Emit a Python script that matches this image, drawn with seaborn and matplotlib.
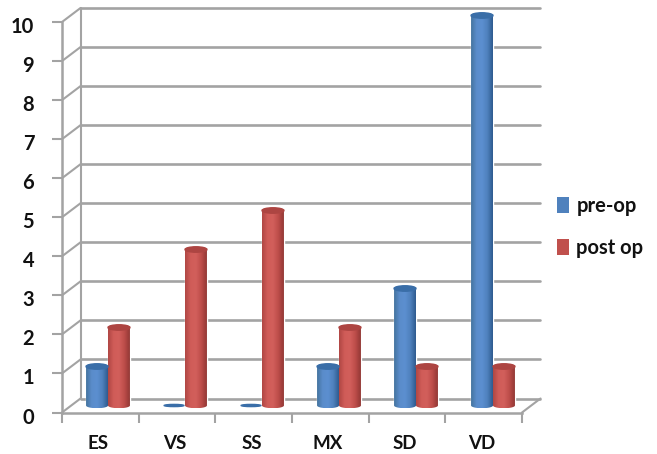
import numpy as np
import pandas as pd
import matplotlib
matplotlib.use("Agg")
import matplotlib.pyplot as plt
from matplotlib.colors import LinearSegmentedColormap
from matplotlib.patches import Ellipse, PathPatch, Patch
from matplotlib.path import Path
from matplotlib.transforms import ScaledTranslation
import seaborn as sns

categories = ["ES", "VS", "SS", "MX", "SD", "VD"]
pre_op = [1, 0, 0, 1, 3, 10]
post_op = [2, 4, 5, 2, 1, 1]
series_names = ["pre-op", "post op"]
y_ticks = list(range(0, 11))

sns.set_theme(style="white")
plt.rcParams["font.family"] = ["Lato", "DejaVu Sans"]

W, H = 657, 454
fig = plt.figure(figsize=(W / 100, H / 100), dpi=100, facecolor="white")

def rect(l, top, r, bottom):
    return [l / W, 1 - bottom / H, (r - l) / W, (bottom - top) / H]

GRID = "#a3a3a3"
# Front plane of the 3D frame
wall = fig.add_axes(rect(62, 22, 522, 412.5))
wall.set_xlim(0, 6)
wall.set_ylim(0, 10)
dx = 18.5 / (460 / 6)
dy = 14 / 39.05
for v in y_ticks:
    wall.plot([0, dx], [v, v + dy], color=GRID, lw=1.5, clip_on=False, zorder=1)
    wall.plot([dx, 6 + dx], [v + dy, v + dy], color=GRID, lw=1.9, clip_on=False, zorder=1)
wall.plot([dx, dx], [dy, 10 + dy], color=GRID, lw=1.5, clip_on=False, zorder=1)
wall.plot([6, 6 + dx], [0, dy], color=GRID, lw=1.5, clip_on=False, zorder=1)
wall.set_yticks(y_ticks)
wall.set_xticks(range(7))
wall.set_xticklabels([])
wall.set_xticks(np.arange(6) + 0.47, labels=categories, minor=True)
wall.tick_params(axis="x", which="major", length=7, width=1.5, color=GRID, bottom=True)
wall.tick_params(axis="x", which="minor", length=0, pad=16, labelsize=13.5, labelcolor="#111111")
wall.tick_params(axis="y", length=7, width=1.5, color=GRID, left=True, pad=13, labelsize=14.5, labelcolor="#111111")
for lab in wall.get_xticklabels(minor=True) + wall.get_yticklabels():
    lab.set_fontweight("bold")
for lab in wall.get_yticklabels():
    lab.set_transform(lab.get_transform() + ScaledTranslation(0, -3 / 100, fig.dpi_scale_trans))
for s in ("top", "right"):
    wall.spines[s].set_visible(False)
for s in ("left", "bottom"):
    wall.spines[s].set_color(GRID)
    wall.spines[s].set_linewidth(1.8)

# Bars
bars = fig.add_axes(rect(69.5, 15.5, 531.5, 405.5))
bars.patch.set_alpha(0)
df = pd.DataFrame({
    "category": categories * 2,
    "value": pre_op + post_op,
    "series": [series_names[0]] * 6 + [series_names[1]] * 6,
})
colors = ["#4f81bd", "#c0504d"]
sns.barplot(data=df, x="category", y="value", hue="series", order=categories,
            hue_order=series_names, palette=colors, width=0.57, gap=0,
            saturation=1, legend=False, ax=bars)
bars.set_xlim(-0.5, 5.5)
bars.set_ylim(0, 10)
bars.axis("off")

ramps = [
    ["#44749f", "#5a8cca", "#5c8fd0", "#4f81bd", "#2f5b90"],
    ["#b04744", "#d05c58", "#d25f5b", "#bd4d4a", "#933835"],
]
caps = ["#3a6ea8", "#ad4542"]
cap_h = 0.07
grad = np.linspace(0, 1, 64).reshape(1, -1)
for cont, ramp, cap in zip(bars.containers, ramps, caps):
    cmap = LinearSegmentedColormap.from_list("cyl", ramp)
    for bar in cont:
        x0, w, h = bar.get_x(), bar.get_width(), bar.get_height()
        xc = x0 + w / 2
        if h == 0:
            bar.set_visible(False)
            bars.add_patch(Ellipse((xc, 0), w * 0.9, cap_h * 0.8, color=cap, zorder=3, clip_on=False))
            continue
        bar.set_facecolor("none")
        t = np.linspace(0, np.pi, 30)
        top = np.column_stack([xc - w / 2 * np.cos(t), h + cap_h * np.sin(t)])
        bottom = np.column_stack([xc + w / 2 * np.cos(t), -cap_h * np.sin(t)])
        path = Path(np.vstack([top, bottom, top[:1]]))
        clip = PathPatch(path, transform=bars.transData, fc="none", ec="none")
        bars.add_patch(clip)
        clip.set_clip_on(False)
        im = bars.imshow(grad, cmap=cmap, aspect="auto", zorder=2,
                         extent=(x0, x0 + w, -cap_h, h + cap_h))
        im.set_clip_box(fig.bbox)
        im.set_clip_path(clip)
        bars.add_patch(Ellipse((xc, h), w, 2 * cap_h, color=cap, zorder=3, clip_on=False))
bars.set_xlim(-0.5, 5.5)
bars.set_ylim(0, 10)

handles = [Patch(facecolor=c, edgecolor="none", label=n) for c, n in zip(colors, series_names)]
leg = fig.legend(handles=handles, loc="upper left", bbox_to_anchor=(539 / W, 1 - 178 / H),
                 frameon=False, handlelength=0.6, handleheight=0.85, handletextpad=0.35,
                 labelspacing=1.1, prop={"size": 14.5, "weight": "bold"}, labelcolor="#111111")

fig.savefig("out.png", dpi=100, facecolor="white")
